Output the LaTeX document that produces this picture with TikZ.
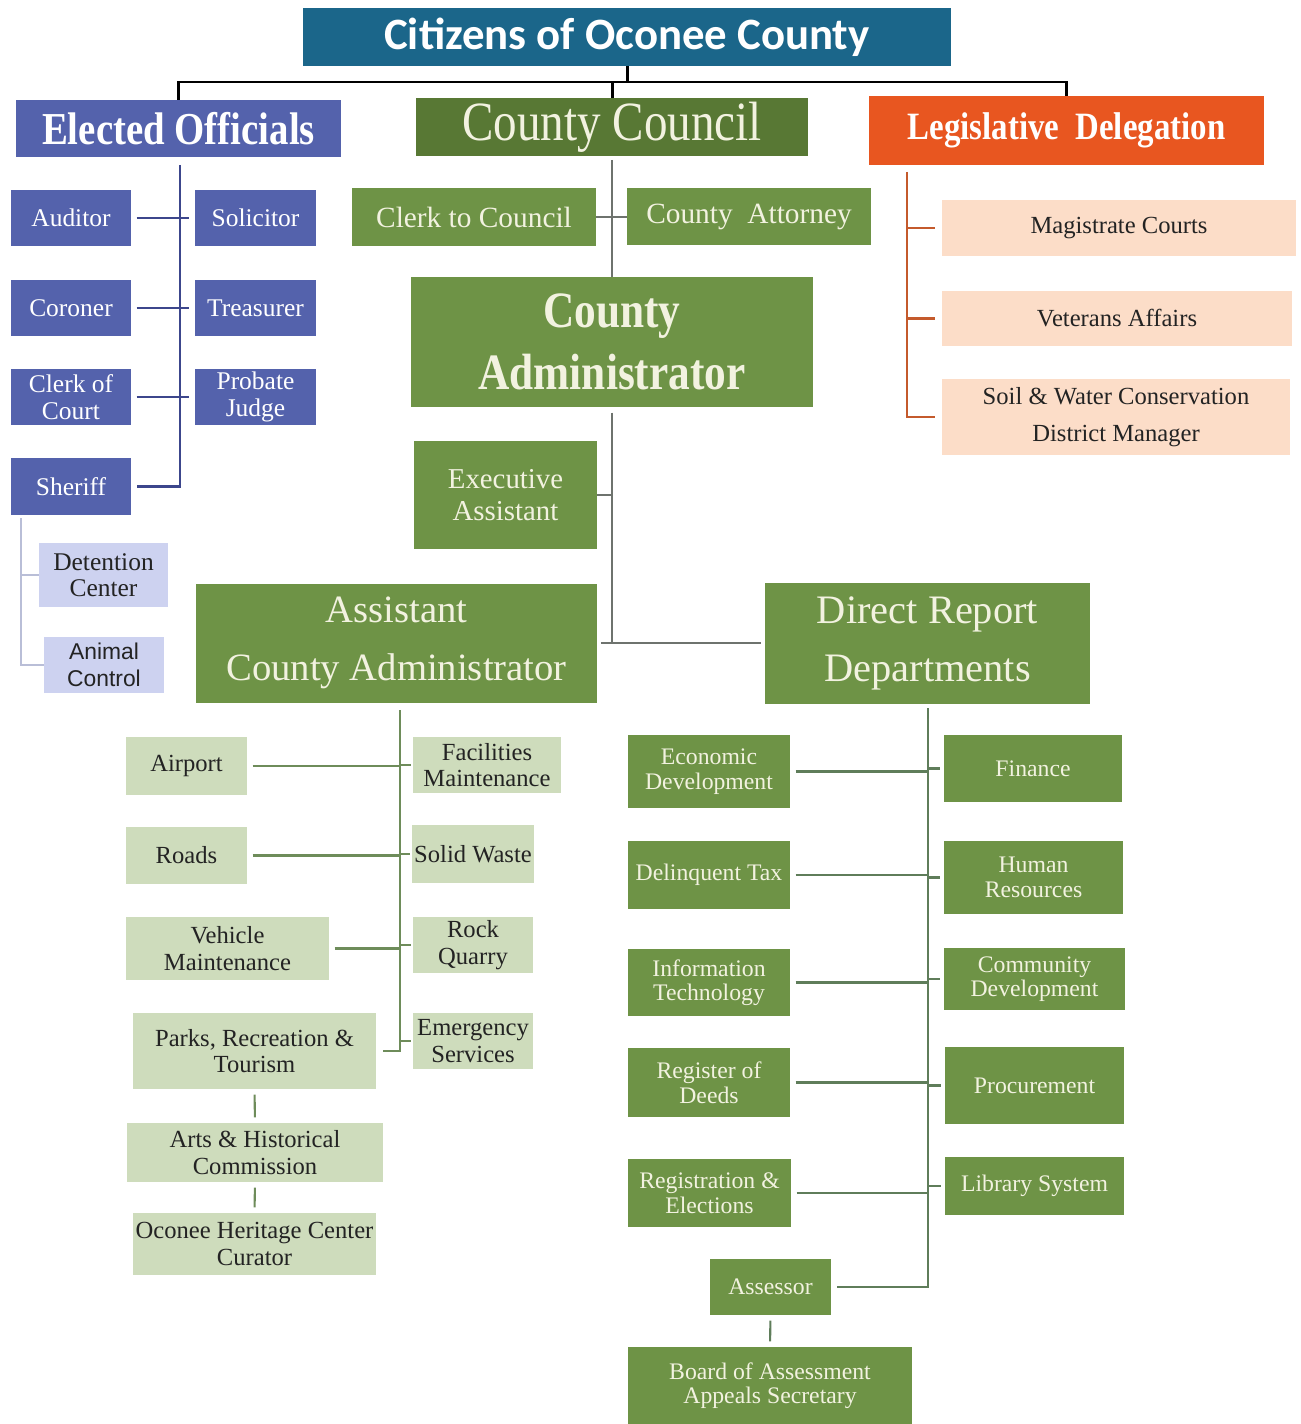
\documentclass[tikz,border=0pt]{standalone}
\usepackage{fontspec}
\setmainfont{Liberation Serif}
\newfontfamily\calibri{Carlito}
\newfontfamily\narrowserif{Liberation Serif}[FakeStretch=0.85]
\newfontfamily\gothic{Liberation Sans}
\usetikzlibrary{positioning, calc}

\begin{document}
\begin{tikzpicture}[x=0.2mm, y=-0.2mm,
    box/.style={rectangle, inner sep=1pt, align=center},
    headbox/.style={box, text=white},
    bluebox/.style={box, fill=eoblue, text=white, minimum width=2.4cm, minimum height=1.13cm,
        font=\fontsize{14.5}{15}\selectfont},
    lavbox/.style={box, fill=lavender, text=darktext, font=\fontsize{14.5}{15}\selectfont},
    greenbox/.style={box, fill=boxgreen, text=cream},
    peachbox/.style={box, fill=peach, text=darktext, font=\fontsize{14}{21}\selectfont},
    palebox/.style={box, fill=palegreen, text=darktext, font=\fontsize{14}{15}\selectfont},
    deptbox/.style={greenbox, font=\fontsize{13.5}{14}\selectfont},
    topline/.style={line width=1.7pt, black},
    eoline/.style={line width=1.2pt, eolinecol},
    sheriffline/.style={line width=1pt, sheriffcol},
    grayline/.style={line width=1.2pt, graycol},
    ldline/.style={line width=1.2pt, ldcol},
    acaline/.style={line width=1.2pt, acacol},
    drdline/.style={line width=1.2pt, drdcol}]

    % Define colors
    \definecolor{titleblue}{RGB}{27, 102, 138}
    \definecolor{eoblue}{RGB}{84, 98, 172}
    \definecolor{eolinecol}{RGB}{60, 70, 140}
    \definecolor{lavender}{RGB}{205, 210, 240}
    \definecolor{sheriffcol}{RGB}{185, 190, 215}
    \definecolor{councilgreen}{RGB}{88, 120, 52}
    \definecolor{boxgreen}{RGB}{110, 147, 70}
    \definecolor{palegreen}{RGB}{206, 220, 188}
    \definecolor{ldorange}{RGB}{232, 86, 32}
    \definecolor{peach}{RGB}{252, 221, 200}
    \definecolor{ldcol}{RGB}{196, 90, 44}
    \definecolor{cream}{RGB}{242, 242, 224}
    \definecolor{darktext}{RGB}{35, 35, 35}
    \definecolor{graycol}{RGB}{110, 115, 110}
    \definecolor{acacol}{RGB}{110, 140, 90}
    \definecolor{drdcol}{RGB}{95, 125, 90}

    \useasboundingbox (0,0) rectangle (1300,1424);

    % Top level
    \node[headbox, fill=titleblue, minimum width=12.96cm, minimum height=1.16cm,
        font=\calibri\bfseries\fontsize{25.5}{28}\selectfont] (title) at (627,37) {Citizens of Oconee County};
    \node[headbox, fill=eoblue, minimum width=6.5cm, minimum height=1.14cm,
        font=\narrowserif\bfseries\fontsize{26}{30}\selectfont] (elected) at (178.5,128.5) {Elected Officials};
    \node[headbox, fill=councilgreen, text=cream, minimum width=7.84cm, minimum height=1.16cm,
        font=\narrowserif\fontsize{31.5}{34}\selectfont] (council) at (612,127) {County Council};
    \node[headbox, fill=ldorange, minimum width=7.9cm, minimum height=1.38cm,
        font=\narrowserif\bfseries\fontsize{22}{26}\selectfont] (legis) at (1066.5,130.5) {Legislative\ \ Delegation};

    \coordinate (bar) at (627,82);
    \draw[topline] (title.south) -- (bar);
    \draw[topline] (elected.north) |- (bar) -| (legis.north);
    \draw[topline] (council.north) -- (council.north |- bar);

    % Elected officials
    \node[bluebox] (auditor) at (71,218) {Auditor};
    \node[bluebox, minimum width=2.42cm] (solicitor) at (255.5,218) {Solicitor};
    \node[bluebox] (coroner) at (71,308) {Coroner};
    \node[bluebox, minimum width=2.42cm] (treasurer) at (255.5,308) {Treasurer};
    \node[bluebox] (clerkcourt) at (71,397) {Clerk of\\Court};
    \node[bluebox, minimum width=2.42cm] (probate) at (255.5,397) {Probate\\Judge};
    \node[bluebox] (sheriff) at (71,486.5) {Sheriff};
    \node[lavbox, minimum width=2.58cm, minimum height=1.28cm] (detention) at (103.5,575) {Detention\\Center};
    \node[lavbox, minimum width=2.4cm, minimum height=1.12cm,
        font=\gothic\fontsize{13}{15}\selectfont] (animal) at (104,665) {Animal\\Control};

    \coordinate (eotop) at (180,165);
    \draw[eoline] (eotop) |- ([xshift=3pt]sheriff.east);
    \foreach \l/\r in {auditor/solicitor, coroner/treasurer, clerkcourt/probate}
        \draw[eoline, shorten <=3pt, shorten >=3pt] (\l.east) -- (\r.west);

    \coordinate (shtop) at (21,518);
    \draw[sheriffline] (shtop) |- (animal.west);
    \draw[sheriffline] (shtop |- detention.west) -- (detention.west);

    % County council and administrator
    \node[greenbox, minimum width=4.88cm, minimum height=1.16cm,
        font=\fontsize{16.7}{18}\selectfont] (clerkcouncil) at (474,217) {Clerk to Council};
    \node[greenbox, minimum width=4.88cm, minimum height=1.14cm,
        font=\fontsize{16.7}{18}\selectfont] (attorney) at (749,217) {County\ \ Attorney};
    \node[greenbox, minimum width=8.04cm, minimum height=2.6cm,
        font=\narrowserif\bfseries\fontsize{29}{35}\selectfont] (admin) at (612,342) {County\\Administrator};
    \node[greenbox, minimum width=3.66cm, minimum height=2.16cm,
        font=\fontsize{16.4}{18}\selectfont] (exec) at (505.5,495) {Executive\\Assistant};
    \node[greenbox, minimum width=8.02cm, minimum height=2.38cm,
        font=\fontsize{22}{33}\selectfont] (aca) at (396.5,643) {Assistant\\County Administrator};
    \node[greenbox, minimum width=6.5cm, minimum height=2.42cm,
        font=\fontsize{23}{33}\selectfont] (drd) at (927.5,643) {Direct Report\\Departments};

    \draw[grayline] ([yshift=-2pt]council.south) -- (admin.north);
    \draw[grayline] (clerkcouncil.east) -- (attorney.west);
    \coordinate (split) at (admin.south |- aca.east);
    \draw[grayline] ([yshift=-3pt]admin.south) -- (split);
    \draw[grayline] ([xshift=2pt]aca.east) -- ([xshift=-2pt]drd.west);
    \draw[grayline] (exec.east) -- (exec.east -| split);

    % Legislative delegation
    \node[peachbox, minimum width=7.08cm, minimum height=1.12cm] (magistrate) at (1119,228) {Magistrate Courts};
    \node[peachbox, minimum width=7.0cm, minimum height=1.1cm] (veterans) at (1117,318.5) {Veterans Affairs};
    \node[peachbox, minimum width=6.96cm, minimum height=1.52cm] (soil) at (1116,417) {Soil \& Water Conservation\\District Manager};

    \coordinate (ldtop) at (907,172);
    \draw[ldline] (ldtop) |- ([xshift=-4pt]soil.west);
    \foreach \n in {magistrate, veterans}
        \draw[ldline] (\n.west -| ldtop) -- ([xshift=-4pt]\n.west);

    % Assistant county administrator
    \node[palebox, minimum width=2.42cm, minimum height=1.16cm] (airport) at (186.5,766) {Airport};
    \node[palebox, minimum width=2.96cm, minimum height=1.12cm] (facilities) at (487,765) {Facilities\\Maintenance};
    \node[palebox, minimum width=2.42cm, minimum height=1.14cm] (roads) at (186.5,855.5) {Roads};
    \node[palebox, minimum width=2.4cm, minimum height=1.16cm] (solidwaste) at (473,854) {Solid Waste};
    \node[palebox, minimum width=4.06cm, minimum height=1.26cm] (vehicle) at (227.5,948.5) {Vehicle\\Maintenance};
    \node[palebox, minimum width=2.4cm, minimum height=1.12cm] (rock) at (473,945) {Rock\\Quarry};
    \node[palebox, minimum width=4.86cm, minimum height=1.52cm] (parks) at (254.5,1051) {Parks, Recreation \&\\Tourism};
    \node[palebox, minimum width=2.4cm, minimum height=1.12cm] (emergency) at (473,1041) {Emergency\\Services};
    \node[palebox, minimum width=5.12cm, minimum height=1.18cm] (arts) at (255,1152.5) {Arts \& Historical\\Commission};
    \node[palebox, minimum width=4.86cm, minimum height=1.24cm] (heritage) at (254.5,1244) {Oconee Heritage Center\\Curator};

    \coordinate (acatop) at (400,710);
    \draw[acaline] (acatop) |- ([xshift=4pt]parks.east);
    \foreach \l/\r in {airport/facilities, roads/solidwaste, vehicle/rock} {
        \draw[acaline, shorten <=3pt] (\l.east) -- (\l.east -| acatop);
        \draw[acaline] (\r.west -| acatop) -- ([xshift=-1pt]\r.west);
    }
    \draw[acaline] (emergency.west -| acatop) -- ([xshift=-1pt]emergency.west);
    \draw[acaline, shorten <=3pt, shorten >=3pt] (parks.south) -- (arts.north);
    \draw[acaline, shorten <=3pt, shorten >=3pt] (arts.south) -- (heritage.north);

    % Direct report departments
    \node[deptbox, minimum width=3.24cm, minimum height=1.46cm] (econ) at (709,771.5) {Economic\\Development};
    \node[deptbox, minimum width=3.56cm, minimum height=1.34cm] (finance) at (1033,768.5) {Finance};
    \node[deptbox, minimum width=3.24cm, minimum height=1.36cm] (delinq) at (709,875) {Delinquent Tax};
    \node[deptbox, minimum width=3.58cm, minimum height=1.46cm] (hr) at (1033.5,877.5) {Human\\Resources};
    \node[deptbox, minimum width=3.24cm, minimum height=1.34cm] (it) at (709,982.5) {Information\\Technology};
    \node[deptbox, minimum width=3.62cm, minimum height=1.24cm] (community) at (1034.5,979) {Community\\Development};
    \node[deptbox, minimum width=3.24cm, minimum height=1.38cm] (register) at (709,1082.5) {Register of\\Deeds};
    \node[deptbox, minimum width=3.58cm, minimum height=1.54cm] (procurement) at (1034.5,1085.5) {Procurement};
    \node[deptbox, minimum width=3.26cm, minimum height=1.36cm] (registration) at (709.5,1193) {Registration \&\\Elections};
    \node[deptbox, minimum width=3.58cm, minimum height=1.16cm] (library) at (1034.5,1186) {Library System};
    \node[deptbox, minimum width=2.42cm, minimum height=1.12cm] (assessor) at (770.5,1287) {Assessor};
    \node[deptbox, minimum width=5.68cm, minimum height=1.54cm] (board) at (770,1385.5) {Board of Assessment\\Appeals Secretary};

    \coordinate (drdtop) at (928,708);
    \draw[drdline] (drdtop) |- ([xshift=3pt]assessor.east);
    \foreach \l/\r in {econ/finance, delinq/hr, it/community, register/procurement, registration/library} {
        \draw[drdline, shorten <=3pt] (\l.east) -- (\l.east -| drdtop);
        \draw[drdline] (\r.west -| drdtop) -- ([xshift=-2pt]\r.west);
    }
    \draw[drdline, shorten <=3pt, shorten >=3pt] (assessor.south) -- (board.north);

\end{tikzpicture}
\end{document}
